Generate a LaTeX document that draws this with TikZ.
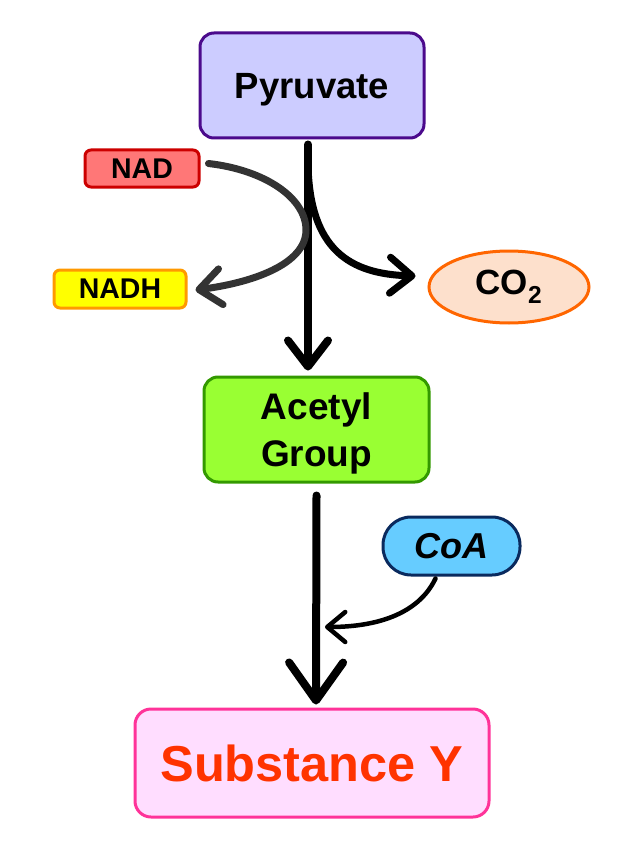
\documentclass[tikz,border=0pt]{standalone}
\usepackage{fontspec}
\setmainfont{Liberation Sans}
\usetikzlibrary{arrows.meta,shapes.geometric}
\definecolor{pyrfill}{HTML}{CCCCFF}
\definecolor{pyrline}{HTML}{4B0A8C}
\definecolor{nadfill}{HTML}{FF7777}
\definecolor{nadline}{HTML}{CC0000}
\definecolor{nadhfill}{HTML}{FFFF00}
\definecolor{nadhline}{HTML}{FF9900}
\definecolor{cofill}{HTML}{FDE0CC}
\definecolor{coline}{HTML}{FF6600}
\definecolor{acfill}{HTML}{99FF33}
\definecolor{acline}{HTML}{339900}
\definecolor{coafill}{HTML}{66CCFF}
\definecolor{coaline}{HTML}{0A2A5E}
\definecolor{subfill}{HTML}{FFDDFF}
\definecolor{subline}{HTML}{FF3399}
\definecolor{subtext}{HTML}{FF3300}
\definecolor{arrgray}{HTML}{333333}
\begin{document}
\begin{tikzpicture}[x=1pt,y=-1pt,
  box/.style={draw, line width=3pt, inner sep=0pt, align=center, font=\bfseries},
  bigarrow/.style={line width=8pt, line cap=round, line join=round,
    -{Straight Barb[length=26pt,width=40pt,round]}},
  hugearrow/.style={line width=8pt, line cap=round, line join=round,
    -{Straight Barb[length=38pt,width=54pt,round]}},
  medarrow/.style={line width=7pt, line cap=round, line join=round,
    -{Straight Barb[length=22pt,width=36pt,round]}},
  smallarrow/.style={line width=4.5pt, line cap=round, line join=round,
    -{Straight Barb[length=18pt,width=30pt,round]}}]
\useasboundingbox (0,0) rectangle (630,853);

\node[box, fill=pyrfill, draw=pyrline, rounded corners=14pt,
  minimum width=224pt, minimum height=105pt, text depth=0pt,
  font=\bfseries\fontsize{36.5}{40}\selectfont] (pyr) at (312,85.5) {Pyruvate};

\node[box, fill=nadfill, draw=nadline, rounded corners=6pt,
  minimum width=114pt, minimum height=37pt,
  font=\bfseries\fontsize{28.5}{32}\selectfont] (nad) at (142,168.5) {NAD};

\node[box, fill=nadhfill, draw=nadhline, rounded corners=6pt,
  minimum width=132pt, minimum height=38pt,
  font=\bfseries\fontsize{28.5}{32}\selectfont] (nadh) at (120,289) {NADH};

\node[box, ellipse, fill=cofill, draw=coline,
  minimum width=160pt, minimum height=72pt,
  font=\bfseries\fontsize{35}{40}\selectfont] (co2) at (509,287) {CO\textsubscript{2}};

\node[box, fill=acfill, draw=acline, rounded corners=14pt,
  minimum width=225pt, minimum height=105pt, text depth=0pt,
  font=\bfseries\fontsize{37}{47}\selectfont] (ac) at (316.5,429.5) {Acetyl\\Group};

\node[box, fill=coafill, draw=coaline, rounded corners=28pt,
  minimum width=137pt, minimum height=58pt,
  font=\bfseries\itshape\fontsize{36}{40}\selectfont] (coa) at (451.5,546) {CoA};

\node[box, fill=subfill, draw=subline, rounded corners=16pt,
  minimum width=354pt, minimum height=108pt, text=subtext,
  font=\bfseries\fontsize{50.5}{56}\selectfont] (sub) at (312,763) {Substance Y};

% main vertical arrow
\draw[bigarrow, shorten >=5pt] ([xshift=-4pt,yshift=-5pt]pyr.south) -- ([xshift=-8.5pt]ac.north);

% branch to CO2
\coordinate (br) at (308,165);
\draw[medarrow] (br) .. controls (310,250) and (350,274) .. ([xshift=-12pt,yshift=11pt]co2.west);

% NAD -> NADH
\draw[medarrow, draw=arrgray] ([xshift=8pt,yshift=5pt]nad.east)
  .. controls (265,170) and (306,198) .. (306,230)
  .. controls (306,265) and (250,283) .. ([xshift=8pt,yshift=-1pt]nadh.east);

% second vertical arrow
\draw[hugearrow, shorten >=3pt] ([yshift=-12pt]ac.south) -- ([xshift=4pt]sub.north);

% CoA joining
\coordinate (join) at (325,627);
\draw[smallarrow] ([xshift=-16pt,yshift=-2pt]coa.south)
  .. controls (418,615) and (375,627) .. (join);
\end{tikzpicture}
\end{document}
